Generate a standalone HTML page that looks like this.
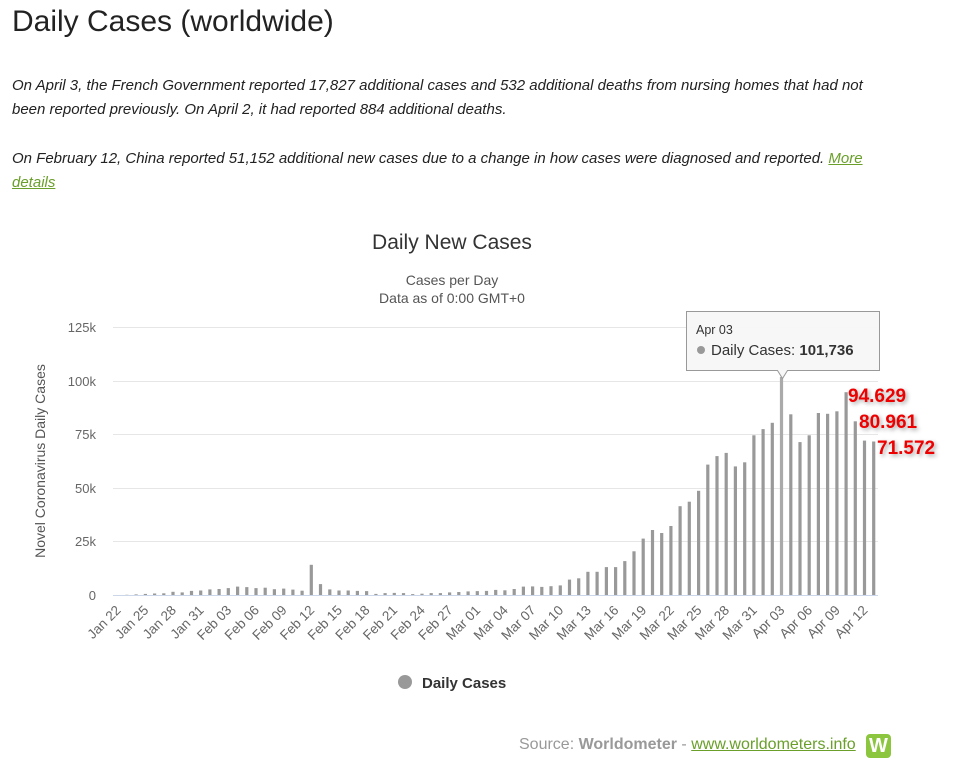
<!DOCTYPE html>
<html><head><meta charset="utf-8"><style>
body{margin:0;width:954px;height:767px;background:#fff;font-family:"Liberation Sans",Arial,sans-serif;position:relative;overflow:hidden}
h1{position:absolute;left:12px;top:5px;margin:0;font-weight:normal;font-size:30px;color:#222}
.p{position:absolute;left:12px;font-style:italic;font-size:15px;color:#222;line-height:24px;width:870px}
a{color:#6a9f2a;text-decoration:underline}
.src{position:absolute;left:519px;top:736px;font-size:16px;color:#999}
.logo{position:absolute;left:866px;top:734px;width:25px;height:24px;background:#8cc63f;border-radius:4px;color:#fff;font-weight:bold;font-size:20px;text-align:center;line-height:24px}
</style></head><body>
<h1>Daily Cases (worldwide)</h1>
<div class="p" style="top:74px">On April 3, the French Government reported 17,827 additional cases and 532 additional deaths from nursing homes that had not been reported previously. On April 2, it had reported 884 additional deaths.</div>
<div class="p" style="top:147px">On February 12, China reported 51,152 additional new cases due to a change in how cases were diagnosed and reported. <a>More details</a></div>
<svg id="c" width="954" height="767" style="position:absolute;left:0;top:0" font-family="Liberation Sans, Arial, sans-serif">
<text x="452" y="249" text-anchor="middle" font-size="21" fill="#333">Daily New Cases</text>
<text x="452" y="285" text-anchor="middle" font-size="14" fill="#555">Cases per Day</text>
<text x="452" y="303" text-anchor="middle" font-size="14" fill="#555">Data as of 0:00 GMT+0</text>
<g stroke="#e6e6e6" stroke-width="1">
<line x1="113" x2="878" y1="327.5" y2="327.5"/><line x1="113" x2="878" y1="381.5" y2="381.5"/><line x1="113" x2="878" y1="434.5" y2="434.5"/><line x1="113" x2="878" y1="488.5" y2="488.5"/><line x1="113" x2="878" y1="541.5" y2="541.5"/>
</g>
<line x1="113" x2="878" y1="595.5" y2="595.5" stroke="#ccd6eb"/>
<g font-size="13" fill="#666" text-anchor="end">
<text x="96" y="332">125k</text><text x="96" y="386">100k</text><text x="96" y="439">75k</text><text x="96" y="493">50k</text><text x="96" y="546">25k</text><text x="96" y="600">0</text>
</g>
<text transform="translate(45,461) rotate(-90)" text-anchor="middle" font-size="14" fill="#555">Novel Coronavirus Daily Cases</text>
<g id="bars" fill="#999"></g>
<g font-size="13.5" fill="#666" text-anchor="end" id="lbl">
<text data-i="0">Jan 22</text><text data-i="3">Jan 25</text><text data-i="6">Jan 28</text><text data-i="9">Jan 31</text><text data-i="12">Feb 03</text><text data-i="15">Feb 06</text><text data-i="18">Feb 09</text><text data-i="21">Feb 12</text><text data-i="24">Feb 15</text><text data-i="27">Feb 18</text><text data-i="30">Feb 21</text><text data-i="33">Feb 24</text><text data-i="36">Feb 27</text><text data-i="39">Mar 01</text><text data-i="42">Mar 04</text><text data-i="45">Mar 07</text><text data-i="48">Mar 10</text><text data-i="51">Mar 13</text><text data-i="54">Mar 16</text><text data-i="57">Mar 19</text><text data-i="60">Mar 22</text><text data-i="63">Mar 25</text><text data-i="66">Mar 28</text><text data-i="69">Mar 31</text><text data-i="72">Apr 03</text><text data-i="75">Apr 06</text><text data-i="78">Apr 09</text><text data-i="81">Apr 12</text>
</g>
<path d="M686.5,311.5 h193 v59 h-92 l-5,8 l-5,-8 h-91 z" fill="#f7f7f7" fill-opacity="0.95" stroke="#999" stroke-width="1"/>
<text x="696" y="334" font-size="12.5" fill="#333">Apr 03</text>
<circle cx="701" cy="350" r="4" fill="#999"/>
<text x="711" y="355" font-size="15" fill="#333">Daily Cases: <tspan font-weight="bold">101,736</tspan></text>
<g font-size="19" font-weight="bold" fill="#e00" style="filter:drop-shadow(2px 2px 2px rgba(0,0,0,0.35))">
<text x="848" y="402">94.629</text><text x="859" y="428">80.961</text><text x="877" y="454">71.572</text>
</g>
<circle cx="405" cy="682" r="7" fill="#999"/>
<text x="422" y="688" font-size="15" font-weight="bold" fill="#333">Daily Cases</text>
</svg>
<div class="src">Source: <b>Worldometer</b> - <a>www.worldometers.info</a></div>
<div class="logo">W</div>
<script>
var d=[0,0.1,0.3,0.5,0.7,0.8,1.5,1.2,1.9,2.1,2.6,2.8,3.2,3.9,3.7,3.2,3.4,2.7,3.0,2.5,2.0,14.1,5.1,2.6,2.1,2.1,1.9,1.8,0.5,0.9,1.0,0.9,0.4,0.6,0.9,0.9,1.2,1.4,1.7,1.8,1.9,2.4,2.2,2.8,3.9,4.0,3.8,4.1,4.5,7.2,7.8,10.8,10.8,13.0,13.0,15.8,20.4,26.3,30.3,28.9,32.2,41.4,43.5,48.6,60.8,64.8,66.3,60.0,61.9,74.5,77.4,80.3,101.7,84.3,71.3,74.5,84.9,84.5,85.7,94.6,81.0,72.0,71.6];
var g=document.getElementById('bars'),s='';
for(var i=0;i<d.length;i++){var x=117.6+9.22*i,h=d[i]*2.144;if(h<0.1)continue;
s+='<rect x="'+(x-1.5).toFixed(1)+'" y="'+(595-h).toFixed(1)+'" width="3.2" height="'+h.toFixed(1)+'"'+(i==72?' fill="#aaa"':'')+'/>';}
g.innerHTML=s;
var t=document.querySelectorAll('#lbl text');
for(var j=0;j<t.length;j++){var i=+t[j].getAttribute('data-i'),x=117.6+9.22*i+4;
t[j].setAttribute('transform','translate('+x+',611) rotate(-45)');}
</script>
</body></html>
